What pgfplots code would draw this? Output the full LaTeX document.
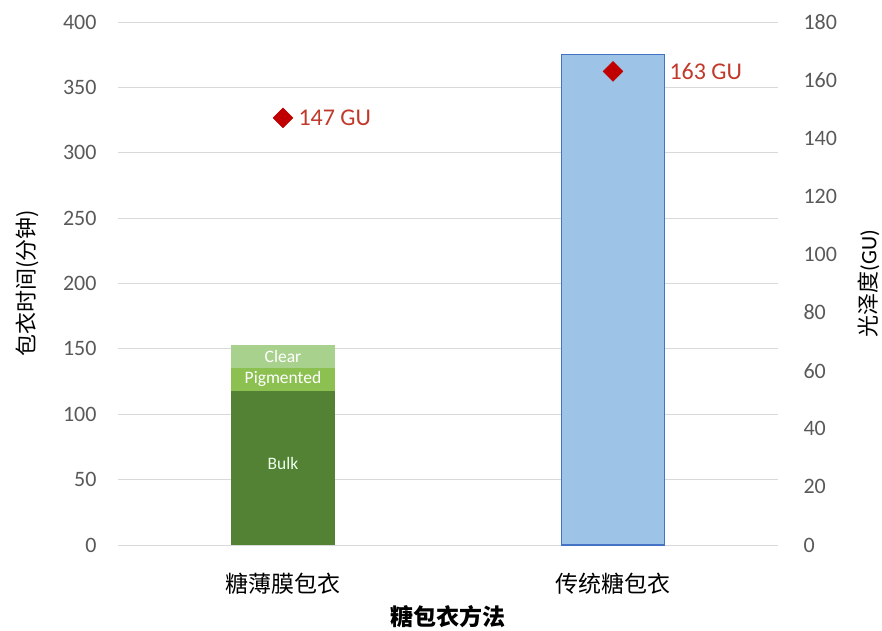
\documentclass[border=0pt]{standalone}
\usepackage{pgfplots}
\pgfplotsset{compat=1.18}
\usepackage{fontspec}
\setmainfont{Carlito}
\newfontfamily\cjk{Noto Sans CJK SC}
\definecolor{tickgray}{HTML}{595959}
\definecolor{gridgray}{HTML}{D9D9D9}
\definecolor{bulk}{HTML}{548235}
\definecolor{pig}{HTML}{8CC152}
\definecolor{clear}{HTML}{A9D18E}
\definecolor{bluefill}{HTML}{9DC3E6}
\definecolor{blueedge}{HTML}{4472C4}
\definecolor{dred}{HTML}{C00000}
\definecolor{lred}{HTML}{C0392B}
\begin{document}
\begin{tikzpicture}
\useasboundingbox (-118pt,-85pt) rectangle (764pt,545pt);
\pgfplotsset{
  base/.style={
    scale only axis, width=660pt, height=523pt,
    at={(0pt,0pt)}, anchor=south west,
    xmin=-0.5, xmax=1.5,
    axis line style={draw=none},
    major tick length=0pt,
    tick label style={font=\fontsize{22}{26}\selectfont, text=tickgray},
    /pgf/number format/assume math mode=true,
  }
}
\begin{axis}[base,
  ymin=0, ymax=400, ytick={0,50,...,400},
  yticklabel style={xshift=-18pt},
  ymajorgrids, grid style={gridgray, line width=1pt},
  xtick={0,1}, xticklabels={{\cjk 糖薄膜包衣},{\cjk 传统糖包衣}},
  xticklabel style={font=\fontsize{23}{27}\selectfont\cjk, text=black, yshift=-25pt},
  xlabel={\cjk\bfseries 糖包衣方法},
  xlabel style={font=\fontsize{23}{27}\selectfont\cjk, yshift=-4pt},
  ylabel={\cjk 包衣时间(分钟)},
  ylabel style={font=\fontsize{22}{26}\selectfont\cjk, yshift=17pt},
  ybar stacked, bar width=0.314,
]
\addplot[fill=bulk, draw=none] coordinates {(0,118)};
\addplot[fill=pig, draw=none] coordinates {(0,17)};
\addplot[fill=clear, draw=none] coordinates {(0,18)};
\end{axis}
\begin{axis}[base, ymin=0, ymax=400, axis lines=none, ybar, bar width=0.314]
\addplot[fill=bluefill, draw=blueedge, line width=1.2pt] coordinates {(1,375)};
\node[text=green!8!white, font=\fontsize{17.5}{20}\selectfont] at (axis cs:0,62) {Bulk};
\node[text=white, font=\fontsize{17.5}{20}\selectfont] at (axis cs:0,127) {Pigmented};
\node[text=white, font=\fontsize{17.5}{20}\selectfont] at (axis cs:0,144.5) {Clear};
\end{axis}
\begin{axis}[base, ymin=0, ymax=180, ytick={0,20,...,180},
  yticklabel style={xshift=22pt},
  axis y line*=right, axis x line=none,
  ylabel={\cjk 光泽度\rmfamily(GU)},
  ylabel style={font=\fontsize{22}{26}\selectfont, yshift=-14pt},
]
\addplot[only marks, mark=square*, mark size=7pt, mark options={rotate=45}, color=dred,
  nodes near coords={\pgfmathprintnumber{\pgfplotspointmeta} GU},
  point meta=explicit,
  every node near coord/.style={anchor=west, xshift=12pt, text=lred, font=\fontsize{24}{28}\selectfont},
] coordinates {(0,147) [147]};
\addplot[only marks, mark=square*, mark size=7pt, mark options={rotate=45}, color=dred,
  nodes near coords={\pgfmathprintnumber{\pgfplotspointmeta} GU},
  point meta=explicit,
  every node near coord/.style={anchor=west, xshift=53pt, text=lred, font=\fontsize{24}{28}\selectfont},
] coordinates {(1,163) [163]};
\end{axis}
\end{tikzpicture}
\end{document}
